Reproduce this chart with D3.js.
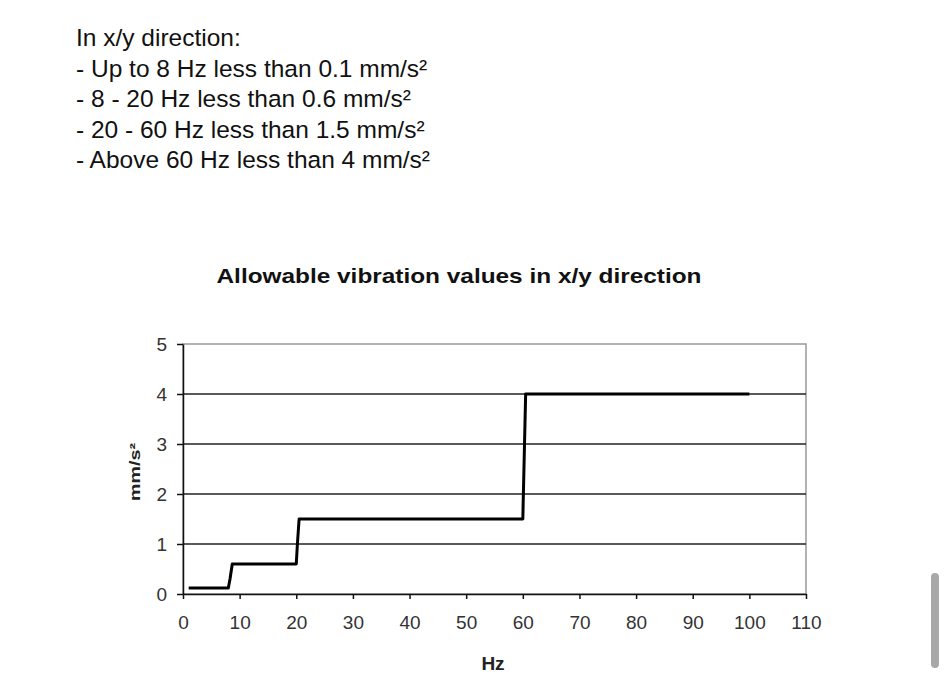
<!DOCTYPE html>
<html>
<head>
<meta charset="utf-8">
<script src="https://cdn.jsdelivr.net/npm/d3@7"></script>
<style>
  body { margin: 0; background: #fff; overflow: hidden; }
</style>
</head>
<body>
<div id="chart"></div>
<script>
// header notes
var notes = [
  "In x/y direction:",
  "- Up to 8 Hz less than 0.1 mm/s\u00b2",
  "- 8 - 20 Hz less than 0.6 mm/s\u00b2",
  "- 20 - 60 Hz less than 1.5 mm/s\u00b2",
  "- Above 60 Hz less than 4 mm/s\u00b2"
];

// limit curve
var hz    = [1, 8, 8.3, 8.7, 20, 20.2, 20.5, 60, 60.5, 100];
var accel = [0.12, 0.12, 0.3, 0.6, 0.6, 1.0, 1.5, 1.5, 4, 4];

var xTicks = [0, 10, 20, 30, 40, 50, 60, 70, 80, 90, 100, 110];
var yTicks = [0, 1, 2, 3, 4, 5];

var W = 946, H = 688;
var margin = {top: 344, right: 140, bottom: 94, left: 183},
    width = 806 - margin.left,
    height = 594 - margin.top;

var font = "Liberation Sans, Arial, sans-serif";

var root = d3.select("#chart")
  .append("svg")
  .attr("width", W)
  .attr("height", H);

// notes text
root.append("g")
  .selectAll("text")
  .data(notes)
  .enter().append("text")
  .attr("x", 76)
  .attr("y", function(d, i) { return 46 + i * 30.5; })
  .style("font-family", font)
  .style("font-size", "24.5px")
  .style("fill", "#111")
  .text(function(d) { return d; });

// title
root.append("text")
  .attr("x", 459)
  .attr("y", 283)
  .attr("text-anchor", "middle")
  .attr("textLength", 485)
  .attr("lengthAdjust", "spacingAndGlyphs")
  .style("font-family", font)
  .style("font-weight", "bold")
  .style("font-size", "21px")
  .style("fill", "#111")
  .text("Allowable vibration values in x/y direction");

var svg = root.append("g")
  .attr("transform", "translate(" + margin.left + "," + margin.top + ")");

var x = d3.scaleLinear().domain([0, 110]).range([0, width]);
var y = d3.scaleLinear().domain([0, 5]).range([height, 0]);

// plot frame (top/right)
svg.append("rect")
  .attr("x", 0).attr("y", 0)
  .attr("width", width).attr("height", height)
  .attr("fill", "none")
  .attr("stroke", "#999")
  .attr("stroke-width", 1.5);

// gridlines
svg.selectAll(".grid")
  .data(yTicks.filter(function(d) { return d > 0 && d < 5; }))
  .enter().append("line")
  .attr("class", "grid")
  .attr("x1", 0).attr("x2", width)
  .attr("y1", function(d) { return y(d); })
  .attr("y2", function(d) { return y(d); })
  .attr("stroke", "#222")
  .attr("stroke-width", 1.3);

// Y axis
var yAxis = svg.append("g")
  .call(d3.axisLeft(y).tickValues(yTicks).tickFormat(d3.format("d"))
    .tickSize(6).tickSizeOuter(0).tickPadding(10));
yAxis.select(".domain").attr("stroke", "#111").attr("stroke-width", 1.5);
yAxis.selectAll("line").attr("stroke", "#111").attr("stroke-width", 1.5);
yAxis.selectAll("text")
  .style("font-family", font)
  .style("font-size", "19px")
  .attr("fill", "#333");

// X axis
var xAxis = svg.append("g")
  .attr("transform", "translate(0," + height + ")")
  .call(d3.axisBottom(x).tickValues(xTicks).tickFormat(d3.format("d"))
    .tickSize(5).tickSizeOuter(0).tickPadding(17));
xAxis.select(".domain").attr("stroke", "#111").attr("stroke-width", 1.5);
xAxis.selectAll("line").attr("stroke", "#111").attr("stroke-width", 1.5);
xAxis.selectAll("text")
  .style("font-family", font)
  .style("font-size", "19px")
  .attr("fill", "#333");

// limit line
var pts = hz.map(function(d, i) { return [d, accel[i]]; });
svg.append("path")
  .datum(pts)
  .attr("fill", "none")
  .attr("stroke", "#000")
  .attr("stroke-width", 3)
  .attr("stroke-linejoin", "round")
  .attr("d", d3.line()
    .x(function(d) { return x(d[0]); })
    .y(function(d) { return y(d[1]); })
  );

// axis labels
svg.append("text")
  .attr("x", 310)
  .attr("y", height + 76)
  .attr("text-anchor", "middle")
  .style("font-family", font)
  .style("font-weight", "bold")
  .style("font-size", "19px")
  .style("fill", "#222")
  .text("Hz");

svg.append("text")
  .attr("transform", "translate(-43," + (height - 122) + ") rotate(-90)")
  .attr("text-anchor", "middle")
  .attr("textLength", 58)
  .attr("lengthAdjust", "spacingAndGlyphs")
  .style("font-family", font)
  .style("font-weight", "bold")
  .style("font-size", "15px")
  .style("fill", "#222")
  .text("mm/s\u00b2");

// scrollbar thumb
root.append("rect")
  .attr("x", 931).attr("y", 573)
  .attr("width", 8).attr("height", 95)
  .attr("rx", 4)
  .attr("fill", "#a8a8a8");
</script>
</body>
</html>
